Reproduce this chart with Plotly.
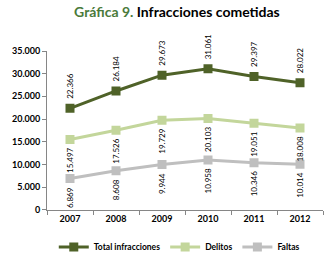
import plotly.graph_objects as go

years = ["2007", "2008", "2009", "2010", "2011", "2012"]
total = [22366, 26184, 29673, 31061, 29397, 28022]
delitos = [15497, 17526, 19729, 20103, 19051, 18008]
faltas = [6869, 8608, 9944, 10958, 10346, 10014]
y_ticks = [0, 5000, 10000, 15000, 20000, 25000, 30000, 35000]

series = [
    ("Total infracciones", total, "#4f6228", "above"),
    ("Delitos", delitos, "#c3d69b", "below"),
    ("Faltas", faltas, "#bfbfbf", "below"),
]

def fmt(v):
    return f"{v:,}".replace(",", ".")

fig = go.Figure()
annotations = []
for name, vals, color, pos in series:
    fig.add_trace(go.Scatter(
        x=years, y=vals, name=name, mode="lines+markers",
        line=dict(color=color, width=3),
        marker=dict(symbol="square", size=9, color=color),
    ))
    for i, v in enumerate(vals):
        annotations.append(dict(
            x=i, y=v, xref="x", yref="y", text=fmt(v), showarrow=False,
            textangle=-90, font=dict(size=8, color="#000", family="Lato"),
            yanchor="bottom" if pos == "above" else "top",
            yshift=7 if pos == "above" else -7,
        ))

fig.update_layout(
    width=332, height=260,
    margin=dict(l=47, r=9, t=51, b=48),
    paper_bgcolor="white", plot_bgcolor="white",
    separators=",.",
    font=dict(family="Lato", size=9, color="#000"),
    title=dict(
        text="<b><span style='color:#4a7a3a'>Gráfica 9.</span> Infracciones cometidas</b>",
        x=0.533, xanchor="center", xref="container", y=0.955, yanchor="middle", yref="container",
        font=dict(size=14, family="Lato", color="#000"),
    ),
    showlegend=True,
    legend=dict(orientation="h", x=0.54, xanchor="center", xref="container",
                y=0.05, yanchor="middle", yref="container",
                font=dict(size=8.5, family="Lato", weight="bold"), itemwidth=30, tracegroupgap=0),
    annotations=annotations,
    xaxis=dict(type="category", range=[-0.5, 5.5], showline=True, linecolor="#868686", linewidth=1,
               ticks="outside", tickson="boundaries", ticklen=4, tickcolor="#868686",
               showgrid=False, tickfont=dict(size=9, family="Lato", weight="bold")),
    yaxis=dict(range=[0, 35000], tickvals=y_ticks, tickformat=",d",
               showline=True, linecolor="#868686", linewidth=1, ticks="outside",
               ticklen=4, tickcolor="#868686", showgrid=False, zeroline=False,
               tickfont=dict(size=9, family="Lato", weight="bold")),
)

fig.write_html("out.html", config={"displayModeBar": False},
               post_script="document.body.style.margin='0';")
